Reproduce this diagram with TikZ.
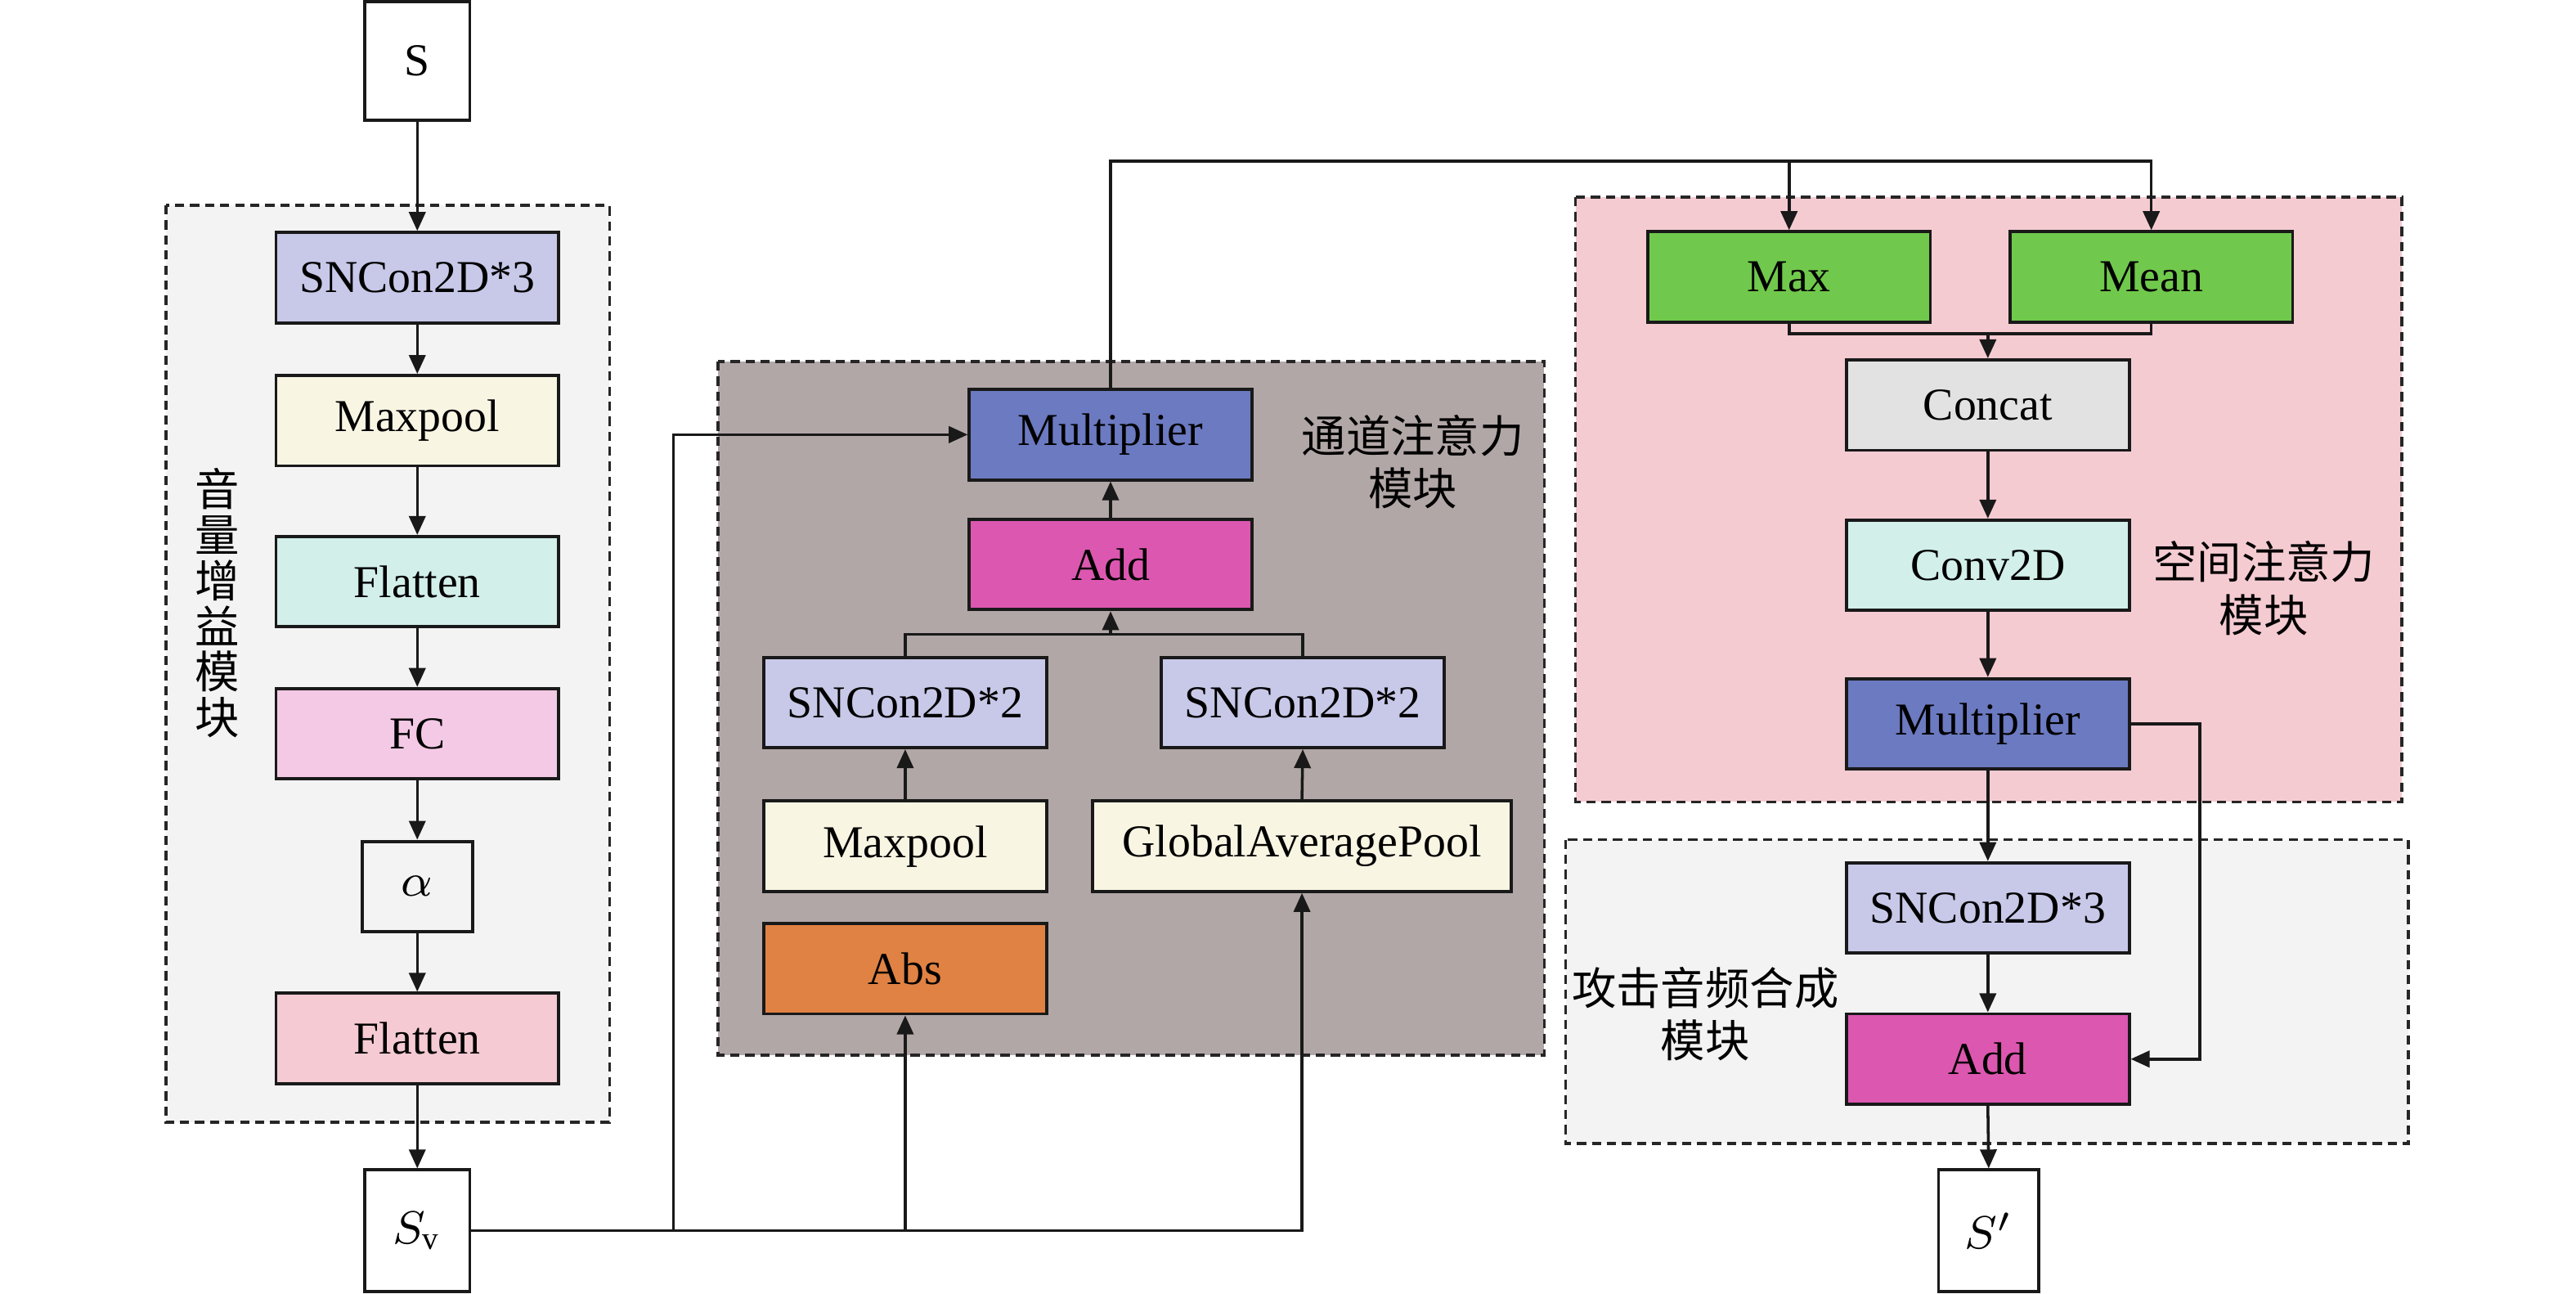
\documentclass[tikz,border=0pt]{standalone}
\usepackage{fontspec}
\setmainfont{Liberation Serif}
\newfontfamily\cjk{Noto Sans CJK SC}
\usetikzlibrary{arrows.meta}

\definecolor{grpgrey}{HTML}{F3F3F3}
\definecolor{grpmauve}{HTML}{B2A7A7}
\definecolor{grppink}{HTML}{F5CBD2}
\definecolor{lav}{HTML}{C8C8E9}
\definecolor{cream}{HTML}{F9F5E3}
\definecolor{mint}{HTML}{D2EFEA}
\definecolor{rosefc}{HTML}{F4C9E5}
\definecolor{roseflat}{HTML}{F5CAD3}
\definecolor{mulblue}{HTML}{6B7AC1}
\definecolor{addmag}{HTML}{DC57B0}
\definecolor{absorange}{HTML}{E08243}
\definecolor{grn}{HTML}{70C94C}
\definecolor{catgrey}{HTML}{E2E2E2}

\begin{document}
\begin{tikzpicture}[x=0.1mm, y=-0.1mm, >={Triangle[length=1.15mm,width=1.0mm]},
  blk/.style={draw=black!90, line width=0.55pt, minimum width=1.72cm, minimum height=0.55cm,
    inner sep=0pt, font=\fontsize{7.9}{9}\selectfont},
  iobox/.style={draw=black!90, line width=0.55pt, fill=white, minimum width=0.64cm,
    minimum height=0.74cm, inner sep=0pt, font=\fontsize{7.9}{9}\selectfont},
  grp/.style={draw=black!85, line width=0.5pt, dash pattern=on 1.6pt off 1pt},
  grplabel/.style={align=center, font=\cjk\fontsize{7.7}{9.1}\selectfont},
  conn/.style={line width=0.5pt, draw=black!90}]
\useasboundingbox (0,0) rectangle (1568,787);

% group frames
\filldraw[grp, fill=grpgrey]  (101,125) rectangle (371,683);
\filldraw[grp, fill=grpmauve] (437,220) rectangle (940,642);
\filldraw[grp, fill=grppink]  (959,120) rectangle (1462,488);
\filldraw[grp, fill=grpgrey]  (953,511) rectangle (1466,696);

% volume gain module
\node[iobox, minimum height=0.72cm] (S) at (254,37) {S};
\node[blk, fill=lav]      (sncA)  at (254,169)   {SNCon2D*3};
\node[blk, fill=cream]    (poolA) at (254,256)   {Maxpool};
\node[blk, fill=mint]     (flatA) at (254,354)   {Flatten};
\node[blk, fill=rosefc]   (fcA)   at (254,446.5) {FC};
\node[blk, minimum width=0.67cm] (alpha) at (254,539.5) {$\alpha$};
\node[blk, fill=roseflat] (flatB) at (254,632)   {Flatten};
\node[iobox] (Sv) at (254,749) {$S_{\mathrm{v}}$};
\node[grplabel, font=\cjk\fontsize{7.7}{7.9}\selectfont] (volLbl) at (132,367) {音\\量\\增\\益\\模\\块};

% channel attention module
\node[blk, fill=mulblue]   (mulA)  at (676,264.5) {Multiplier};
\node[blk, fill=addmag]    (addA)  at (676,343.5) {Add};
\node[blk, fill=lav]       (sncL)  at (551,427.5) {SNCon2D*2};
\node[blk, fill=lav]       (sncR)  at (793,427.5) {SNCon2D*2};
\node[blk, fill=cream]     (poolB) at (551,515)   {Maxpool};
\node[blk, fill=cream, minimum width=2.55cm] (gap) at (792.5,515) {GlobalAveragePool};
\node[blk, fill=absorange] (abs)   at (551,589.5) {Abs};
\node[grplabel] (chLbl) at (860,281) {通道注意力\\模块};

% spatial attention module
\node[blk, fill=grn]     (max)    at (1089,168.5)   {Max};
\node[blk, fill=grn]     (mean)   at (1309.5,168.5) {Mean};
\node[blk, fill=catgrey] (concat) at (1210,246.5)   {Concat};
\node[blk, fill=mint]    (conv)   at (1210,344)     {Conv2D};
\node[blk, fill=mulblue] (mulB)   at (1210,440.5)   {Multiplier};
\node[grplabel] (spLbl) at (1378,358) {空间注意力\\模块};

% synthesis module
\node[blk, fill=lav]    (sncB) at (1210,552.5) {SNCon2D*3};
\node[blk, fill=addmag] (addB) at (1210,644.5) {Add};
\node[iobox, minimum width=0.61cm] (Sp) at (1210.5,749) {$S'$};
\node[grplabel] (synLbl) at (1038,617) {攻击音频合成\\模块};

\coordinate (J1) at (410,749);
\coordinate (J2) at (551,749);
\coordinate (T1) at (676,386);
\coordinate (Top) at (0,98);
\coordinate (Mrg) at (1210,203);

\foreach \a/\b in {S/sncA, sncA/poolA, poolA/flatA, flatA/fcA, fcA/alpha, alpha/flatB, flatB/Sv,
                   concat/conv, conv/mulB, mulB/sncB, sncB/addB, addB/Sp}{
    \draw[conn, ->] (\a.south) -- (\b.north);
}
\foreach \a/\b in {poolB/sncL, gap/sncR, addA/mulA}{
    \draw[conn, ->] (\a.north) -- (\b.south);
}
\draw[conn, ->] (T1) -- (addA.south);

\draw[conn, ->] (Sv.east) -| (gap.south);
\draw[conn, ->] (J1) |- (mulA.west);
\draw[conn, ->] (J2) -- (abs.south);
\draw[conn] (sncL.north) |- (T1) -| (sncR.north);
\draw[conn, ->] (mulA.north) |- (Top -| mean.north) -- (mean.north);
\draw[conn, ->] (max.north |- Top) -- (max.north);
\draw[conn] (max.south) |- (Mrg) -| (mean.south);
\draw[conn, ->] (Mrg) -- (concat.north);
\draw[conn, ->] (mulB.east) -- ++(42,0) |- (addB.east);
\end{tikzpicture}
\end{document}
